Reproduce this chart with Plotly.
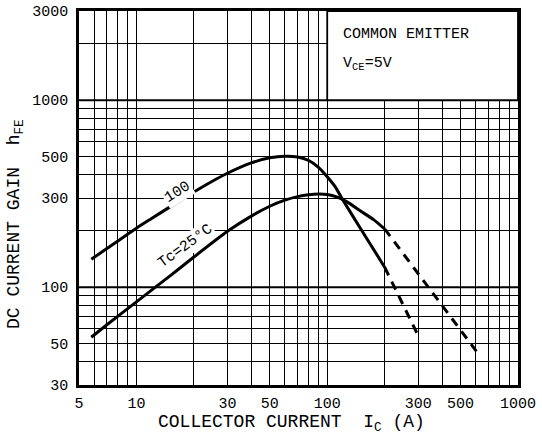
import plotly.graph_objects as go

# ---- data ----
ic_100 = [5.8, 7, 10, 12, 15, 20, 25, 30, 40, 50, 60, 70, 80, 90, 100, 110, 121, 150, 200]
hfe_100 = [141, 161, 207, 233, 269, 323, 369, 407, 462, 492, 502, 497, 476, 438, 390, 345, 292, 205, 128]
ic_100_ext = [200, 300]
hfe_100_ext = [128, 55]

ic_25 = [5.8, 7, 10, 15, 20, 30, 40, 50, 60, 70, 80, 90, 100, 112, 127, 150, 175, 200]
hfe_25 = [54, 63, 83.5, 115, 145, 199, 240, 271, 292, 305, 312, 315, 313, 304, 286, 255, 230, 205]
ic_25_ext = [200, 620]
hfe_25_ext = [205, 44]

x_ticks = [5, 10, 30, 50, 100, 300, 500, 1000]
x_ticktext = ["5", "10", "30", "50", "100", "300", "500", "1000"]
x_minor = [6, 7, 8, 9, 20, 40, 60, 70, 80, 90, 200, 400, 600, 700, 800, 900]
y_ticks = [30, 50, 100, 300, 500, 1000, 3000]
y_ticktext = ["30", "50", "100", "300", "500", "1000", "3000"]
y_minor = [40, 60, 70, 80, 90, 200, 400, 600, 700, 800, 900, 2000]

FONT = "Liberation Mono, Courier New, monospace"

fig = go.Figure()
solid = dict(color="black", width=3, shape="spline", smoothing=0.5)
dashed = dict(color="black", width=3, dash="9px,7px")
fig.add_trace(go.Scatter(x=ic_100, y=hfe_100, mode="lines", line=solid, showlegend=False, hoverinfo="skip"))
fig.add_trace(go.Scatter(x=ic_25, y=hfe_25, mode="lines", line=solid, showlegend=False, hoverinfo="skip"))
fig.add_trace(go.Scatter(x=ic_100_ext, y=hfe_100_ext, mode="lines", line=dashed, showlegend=False, hoverinfo="skip"))
fig.add_trace(go.Scatter(x=ic_25_ext, y=hfe_25_ext, mode="lines", line=dashed, showlegend=False, hoverinfo="skip"))

axis_common = dict(
    type="log", automargin=False,
    showgrid=True, gridcolor="black", gridwidth=1.2,
    showline=True, linecolor="black", linewidth=2.5, mirror=True,
    ticks="", zeroline=False,
    tickfont=dict(family=FONT, size=15, color="black"),
)
fig.update_xaxes(
    **axis_common,
    range=[0.69897, 3],
    tickmode="array", tickvals=x_ticks, ticktext=x_ticktext,
    minor=dict(tickmode="array", tickvals=x_minor, showgrid=True, gridcolor="black", gridwidth=1.2, ticks=""),
    ticklabelstandoff=2,
)
fig.update_yaxes(
    **axis_common,
    range=[1.47712, 3.47712],
    tickmode="array", tickvals=y_ticks, ticktext=y_ticktext,
    minor=dict(tickmode="array", tickvals=y_minor, showgrid=True, gridcolor="black", gridwidth=1.2, ticks=""),
    ticklabelstandoff=5,
)

shapes = [
    # condition box covering the upper-right grid
    dict(type="rect", xref="x", yref="y", x0=100, x1=1000, y0=1000, y1=3000,
         fillcolor="white", line=dict(color="black", width=1.8), layer="above"),
    # heavier decade lines
    dict(type="line", xref="paper", yref="y", x0=0, x1=1, y0=100, y1=100, line=dict(color="black", width=2), layer="below"),
    dict(type="line", xref="paper", yref="y", x0=0, x1=1, y0=1000, y1=1000, line=dict(color="black", width=2), layer="below"),
]

PW, PH = 439, 374  # plot area size in pixels
L0, T0 = 79, 11    # plot area origin in window pixels

annotations = [
    dict(text="COMMON EMITTER", xref="paper", yref="paper", x=(341 - L0) / PW, y=1 - (34 - T0) / PH,
         xanchor="left", yanchor="middle", showarrow=False, font=dict(family=FONT, size=15, color="black")),
    dict(text="V<sub>CE</sub>=5V", xref="paper", yref="paper", x=(341 - L0) / PW, y=1 - (64 - T0) / PH,
         xanchor="left", yanchor="middle", showarrow=False, font=dict(family=FONT, size=15, color="black")),
    dict(text="100", xref="x", yref="y", x=1.215, y=2.508, textangle=-32, showarrow=False,
         bgcolor="white", borderpad=1, font=dict(family=FONT, size=15, color="black")),
    dict(text="Tc=25°C", xref="x", yref="y", x=1.257, y=2.217, textangle=-36, showarrow=False,
         bgcolor="white", borderpad=1, font=dict(family=FONT, size=15, color="black")),
    dict(text="COLLECTOR CURRENT  I<sub>C</sub> (A)", xref="paper", yref="paper", x=(291 - L0) / PW, y=-(423 - 385) / PH,
         xanchor="center", yanchor="middle", showarrow=False, font=dict(family=FONT, size=18, color="black")),
    dict(text="DC CURRENT GAIN  h<sub>FE</sub>", xref="paper", yref="paper", x=-(L0 - 16) / PW, y=1 - (224 - T0) / PH,
         xanchor="center", yanchor="middle", textangle=-90, showarrow=False, font=dict(family=FONT, size=18, color="black")),
]

fig.update_layout(
    width=542, height=441,
    margin=dict(l=L0, r=542 - L0 - PW, t=T0, b=441 - T0 - PH, autoexpand=False),
    paper_bgcolor="white", plot_bgcolor="white",
    shapes=shapes, annotations=annotations,
    showlegend=False,
)

# remove the default 8px page margin so the 542x441 figure fills the window exactly
fig.write_html("out.html", config={"displayModeBar": False},
               post_script="document.body.style.margin='0';")
